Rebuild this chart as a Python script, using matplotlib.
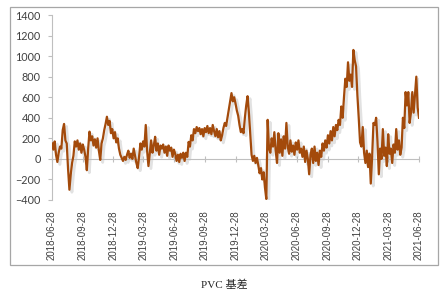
import matplotlib
matplotlib.use("Agg")
import matplotlib.pyplot as plt
import matplotlib.transforms as mtransforms
from matplotlib.patches import Rectangle
import pandas as pd

# PVC basis, one reading every 4 days from 2018-06-28 to 2021-06-28
start = "2018-06-28"
step_days = 4
basis = [
    150, 90, 170, 40, -30, 60, 120, 100, 280, 340,
    180, 150, -100, -300, -150, -40, 30, 170, 120, 180,
    90, 150, 60, 140, 90, 20, -110, 100, 265, 180,
    220, 130, 190, 110, 200, 80, -10, 150, 200, 280,
    340, 410, 330, 370, 250, 290, 200, 260, 160, 200,
    100, 40, 10, -20, 20, -10, 40, 80, 10, 50,
    0, 100, 30, -40, -90, 20, 150, 90, 170, 120,
    330, 80, -70, 60, 180, 60, 130, 215, 80, 150,
    40, 130, 100, 140, 60, 120, 30, 130, 80, 110,
    20, 90, 50, -20, 40, -30, 50, 10, 60, -20,
    60, 20, 165, 120, 230, 180, 290, 250, 310, 270,
    300, 240, 290, 220, 300, 260, 320, 250, 300, 240,
    330, 270, 220, 290, 210, 270, 180, 230, 300, 350,
    320, 400, 480, 560, 640, 560, 600, 540, 470, 420,
    330, 260, 290, 250, 400, 520, 610, 450, 250, 40,
    -20, 30, -40, 10, -60, -140, -90, -200, -130, -280,
    -390, 380, 100, 60, 200, 120, 260, 80, -40, 250,
    60, 190, 30, 220, 100, 350, 120, 50, 180, 70,
    130, 40, 160, 90, 180, 60, 100, 20, 120, -30,
    80, 0, -150, 40, 100, -40, 120, -20, 60, -60,
    80, 20, 150, 80, 180, 110, 230, 150, 270, 180,
    310, 220, 330, 280, 380, 330, 510, 400, 600, 780,
    700, 940, 760, 820, 700, 1060, 960, 900, 620, 400,
    160, 120, 310, 60, -40, 80, -80, 50, -240, 20,
    350, 330, 400, 170, -150, 100, 0, 290, 30, 110,
    -70, 240, 50, 100, -40, 140, 60, 290, 90, 180,
    40, 110, 400, 300, 650, 520, 650, 350, 450, 650,
    450, 620, 800, 500, 400,
]
dates = pd.date_range(start, periods=len(basis), freq=f"{step_days}D")

tick_labels = [
    "2018-06-28", "2018-09-28", "2018-12-28", "2019-03-28", "2019-06-28",
    "2019-09-28", "2019-12-28", "2020-03-28", "2020-06-28", "2020-09-28",
    "2020-12-28", "2021-03-28", "2021-06-28",
]
y_ticks = [-400, -200, 0, 200, 400, 600, 800, 1000, 1200, 1400]

LINE = "#A34A0B"
GRAY = "#BFBFBF"
TXT = "#404040"

fig = plt.figure(figsize=(4.48, 2.94), dpi=100)
fig.patch.set_facecolor("white")
fig.patches.append(Rectangle((10 / 448, 1 - 265 / 294), 428 / 448, 258 / 294,
                             transform=fig.transFigure, fill=False,
                             edgecolor="#A6A6A6", linewidth=0.9))

ax = fig.add_axes([52 / 448, 1 - 200 / 294, 367 / 448, 185 / 294])
# x axis sits on the zero line (set before ticks: this resets the axis)
ax.spines["top"].set_visible(False)
ax.spines["right"].set_visible(False)
ax.spines["left"].set_color(GRAY)
ax.spines["bottom"].set_color(GRAY)
ax.spines["bottom"].set_position(("data", 0))

# soft drop shadow like the Excel original
shadow = mtransforms.offset_copy(ax.transData, fig=fig, x=1.8, y=-1.8, units="points")
ax.plot(dates, basis, color="#8c8c8c", lw=2.0, alpha=0.25, transform=shadow,
        solid_joinstyle="round", zorder=2)
ax.plot(dates, basis, color=LINE, lw=1.6, solid_joinstyle="round", zorder=3)

ax.set_ylim(-400, 1400)
ax.set_yticks(y_ticks)
ax.set_xlim(pd.Timestamp(tick_labels[0]), pd.Timestamp(tick_labels[-1]))
ax.set_xticks(pd.to_datetime(tick_labels))
ax.set_xticklabels(tick_labels, rotation=90, fontsize=7, color=TXT,
                   family="Liberation Sans", va="top")
for lab in ax.get_yticklabels():
    lab.set_fontsize(7.8)
    lab.set_color(TXT)
    lab.set_family("Lato")

ax.tick_params(axis="y", colors=GRAY, labelcolor=TXT, length=3, width=0.8, pad=5)
ax.tick_params(axis="x", colors=GRAY, labelcolor=TXT, direction="inout",
               length=4, width=0.8, pad=35)

fig.text(0.5, 1 - 285 / 294, "PVC 基差", ha="center", va="center", fontsize=8,
         color="#262626", family=["Liberation Serif", "Noto Sans CJK SC"])

fig.savefig("out.png", dpi=100)
